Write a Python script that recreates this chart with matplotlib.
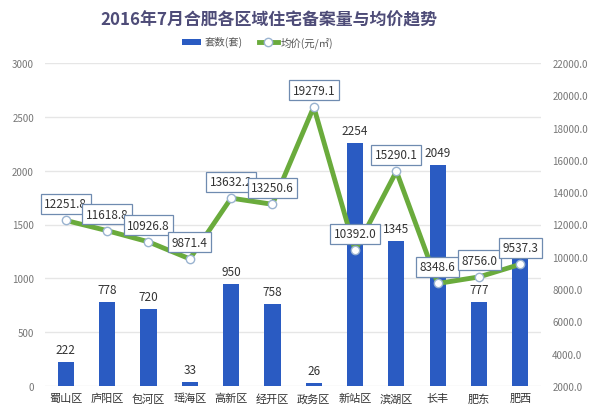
import matplotlib.pyplot as plt
import numpy as np

plt.rcParams['font.family'] = ['Noto Sans CJK SC', 'DejaVu Sans']

districts = ['蜀山区', '庐阳区', '包河区', '瑶海区', '高新区', '经开区',
             '政务区', '新站区', '滨湖区', '长丰', '肥东', '肥西']
units = [222, 778, 720, 33, 950, 758, 26, 2254, 1345, 2049, 777, 1210]
unit_labels = ['222', '778', '720', '33', '950', '758', '26', '2254', '1345', '2049', '777', '']
avg_price = [12251.8, 11618.8, 10926.8, 9871.4, 13632.2, 13250.6,
             19279.1, 10392.0, 15290.1, 8348.6, 8756.0, 9537.3]

fig = plt.figure(figsize=(6.1, 4.1), dpi=100)
ax = fig.add_axes([0.074, 0.056, 0.813, 0.788])
ax2 = ax.twinx()

x = np.arange(len(districts))
bars = ax.bar(x, units, width=0.39, color='#2a5bc2', zorder=2, label='套数(套)')
for xi, v, lab in zip(x, units, unit_labels):
    if lab:
        ax.annotate(lab, (xi, v), xytext=(0, 6), textcoords='offset pixels',
                    ha='center', va='bottom', fontsize=8.5, color='#333333')

ax.set_ylim(0, 3000)
ax.set_yticks(range(0, 3001, 500))
ax.set_xlim(-0.5, len(districts) - 0.5)
ax.set_xticks(x)
ax.set_xticklabels(districts)
ax.grid(axis='y', color='#e6e6e6', linewidth=1, zorder=0)
ax.set_axisbelow(True)

line, = ax2.plot(x, avg_price, color='#6aab3c', linewidth=3.5, marker='o',
                 markersize=6, markerfacecolor='white', markeredgecolor='#9ab3d0',
                 markeredgewidth=1, zorder=3, label='均价(元/㎡)')
for xi, v in zip(x, avg_price):
    ax2.annotate(f'{v:.1f}', (xi, v), xytext=(0, 10), textcoords='offset pixels',
                 ha='center', va='bottom', fontsize=8.5, color='#333333',
                 bbox=dict(boxstyle='square,pad=0.3', fc='white', ec='#6f8bb0', lw=0.9),
                 zorder=4)
ax2.set_ylim(2000, 22000)
ax2.set_yticks(range(2000, 22001, 2000))
ax2.set_yticklabels([f'{t:.1f}' for t in range(2000, 22001, 2000)])

for a in (ax, ax2):
    for s in a.spines.values():
        s.set_visible(False)
    a.tick_params(length=0, labelsize=7, labelcolor='#777777')
ax.tick_params(axis='x', labelsize=8, labelcolor='#333333', pad=5)
ax.tick_params(axis='y', pad=8)
ax2.tick_params(axis='y', pad=8)

fig.text(0.441, 0.95, '2016年7月合肥各区域住宅备案量与均价趋势', ha='center', va='center',
         fontsize=12.2, fontweight='bold', color='#4e4c78')
fig.legend(handles=[bars, line], loc='center', bbox_to_anchor=(0.423, 0.895), ncol=2,
           frameon=False, fontsize=7.5, handlelength=1.8, handleheight=0.5,
           handletextpad=0.3, columnspacing=1.6, labelcolor='#555555')

fig.savefig('out.png', dpi=100)
